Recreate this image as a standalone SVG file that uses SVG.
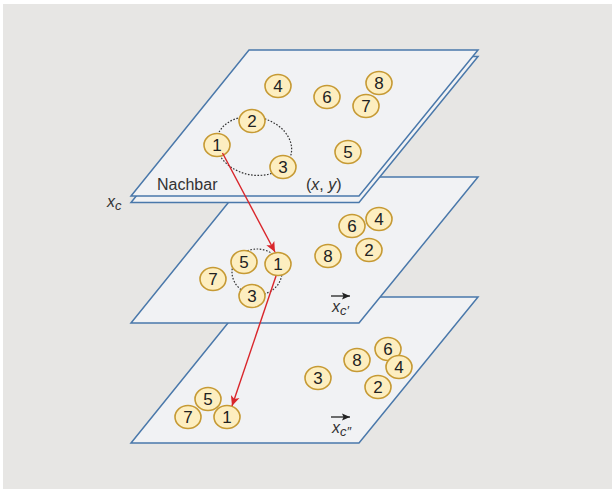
<svg xmlns="http://www.w3.org/2000/svg" width="612" height="489" viewBox="0 0 612 489">
<style>
.plane{fill:#f1f2f4;stroke:#4a78aa;stroke-width:1.5;stroke-linejoin:miter}
.node ellipse{fill:#fdeec0;stroke:#c69a34;stroke-width:1.6}
.node text{font-family:"Liberation Sans","Open Sans",sans-serif;font-size:17px;fill:#222;text-anchor:middle}
.dot{fill:none;stroke:#333;stroke-width:1.2;stroke-dasharray:1.6 1.6}
.lbl{font-family:"Liberation Sans","Open Sans",sans-serif;font-size:16px;fill:#333}
.it{font-style:italic}
.red{stroke:#d9262b;stroke-width:1.4;fill:none}
</style>
<defs>
<marker id="ah" markerWidth="12" markerHeight="12" refX="10" refY="5.5" orient="auto" markerUnits="userSpaceOnUse">
<path d="M0,1 L10,5.5 L0,10 L2.5,5.5 Z" fill="#d9262b"/>
</marker>
<marker id="bk" markerWidth="9" markerHeight="9" refX="8" refY="4" orient="auto" markerUnits="userSpaceOnUse">
<path d="M0,0.5 L8,4 L0,7.5 L1.5,4 Z" fill="#222"/>
</marker>
</defs>
<rect x="3" y="4" width="609" height="485" fill="#e7e6e4"/>

<g id="plane3">
<polygon class="plane" points="249,297 478,297 359,443 131,443"/>
</g>
<g id="plane2">
<polygon class="plane" points="249,177 478,177 359,323 131,323"/>
</g>
<g id="plane1">
<polygon class="plane" points="249,56.5 478,56.5 359,202.5 131,202.5"/>
<polygon class="plane" points="249,50 478,50 359,196 131,196"/>
</g>

<g id="dotted">
<ellipse class="dot" cx="254" cy="146" rx="38" ry="29" transform="rotate(12 254 146)"/>
<ellipse class="dot" cx="257" cy="272" rx="25" ry="23"/>
</g>

<g id="labels">
<text class="lbl" x="157" y="190">Nachbar</text>
<text class="lbl" x="306" y="190">(<tspan class="it">x</tspan>, <tspan class="it">y</tspan>)</text>
<text class="lbl it" x="107" y="207" font-size="17">x<tspan font-size="13" dy="3">c</tspan></text>
<line x1="331" y1="296" x2="350" y2="296" stroke="#222" stroke-width="1.3" marker-end="url(#bk)"/>
<text class="lbl it" x="332" y="312" font-size="17">x<tspan font-size="13" dy="3">c′</tspan></text>
<line x1="331" y1="417" x2="350" y2="417" stroke="#222" stroke-width="1.3" marker-end="url(#bk)"/>
<text class="lbl it" x="332" y="433" font-size="17">x<tspan font-size="13" dy="3">c″</tspan></text>
</g>

<g id="n1-4" class="node"><ellipse cx="278" cy="86" rx="13" ry="11.5"/><text x="278" y="92">4</text></g>
<g id="n1-6" class="node"><ellipse cx="327" cy="97" rx="13" ry="11.5"/><text x="327" y="103">6</text></g>
<g id="n1-8" class="node"><ellipse cx="379" cy="83" rx="13" ry="11.5"/><text x="379" y="89">8</text></g>
<g id="n1-7" class="node"><ellipse cx="366" cy="106" rx="13" ry="11.5"/><text x="366" y="112">7</text></g>
<g id="n1-2" class="node"><ellipse cx="252" cy="121" rx="13" ry="11.5"/><text x="252" y="127">2</text></g>
<g id="n1-1" class="node"><ellipse cx="217" cy="145" rx="13" ry="11.5"/><text x="217" y="151">1</text></g>
<g id="n1-3" class="node"><ellipse cx="283" cy="167" rx="13" ry="11.5"/><text x="283" y="173">3</text></g>
<g id="n1-5" class="node"><ellipse cx="348" cy="152" rx="13" ry="11.5"/><text x="348" y="158">5</text></g>

<g id="n2-4" class="node"><ellipse cx="379" cy="219" rx="13" ry="11.5"/><text x="379" y="225">4</text></g>
<g id="n2-6" class="node"><ellipse cx="352" cy="226" rx="13" ry="11.5"/><text x="352" y="232">6</text></g>
<g id="n2-2" class="node"><ellipse cx="369" cy="250" rx="13" ry="11.5"/><text x="369" y="256">2</text></g>
<g id="n2-8" class="node"><ellipse cx="328" cy="256" rx="13" ry="11.5"/><text x="328" y="262">8</text></g>
<g id="n2-5" class="node"><ellipse cx="244" cy="262" rx="13" ry="11.5"/><text x="244" y="268">5</text></g>
<g id="n2-1" class="node"><ellipse cx="278" cy="264" rx="13" ry="11.5"/><text x="278" y="270">1</text></g>
<g id="n2-7" class="node"><ellipse cx="213" cy="279" rx="13" ry="11.5"/><text x="213" y="285">7</text></g>
<g id="n2-3" class="node"><ellipse cx="252" cy="296" rx="13" ry="11.5"/><text x="252" y="302">3</text></g>

<g id="n3-6" class="node"><ellipse cx="388" cy="349" rx="13" ry="11.5"/><text x="388" y="355">6</text></g>
<g id="n3-8" class="node"><ellipse cx="357" cy="360" rx="13" ry="11.5"/><text x="357" y="366">8</text></g>
<g id="n3-4" class="node"><ellipse cx="399" cy="367" rx="13" ry="11.5"/><text x="399" y="373">4</text></g>
<g id="n3-3" class="node"><ellipse cx="318" cy="378" rx="13" ry="11.5"/><text x="318" y="384">3</text></g>
<g id="n3-2" class="node"><ellipse cx="378" cy="387" rx="13" ry="11.5"/><text x="378" y="393">2</text></g>
<g id="n3-5" class="node"><ellipse cx="208" cy="399" rx="13" ry="11.5"/><text x="208" y="405">5</text></g>
<g id="n3-7" class="node"><ellipse cx="188" cy="417" rx="13" ry="11.5"/><text x="188" y="423">7</text></g>
<g id="n3-1" class="node"><ellipse cx="227" cy="417" rx="13" ry="11.5"/><text x="227" y="423">1</text></g>

<g id="connectors">
<line class="red" x1="222.5" y1="153" x2="275" y2="252" marker-end="url(#ah)"/>
<line class="red" x1="276" y1="276" x2="232" y2="406" marker-end="url(#ah)"/>
</g>
</svg>
